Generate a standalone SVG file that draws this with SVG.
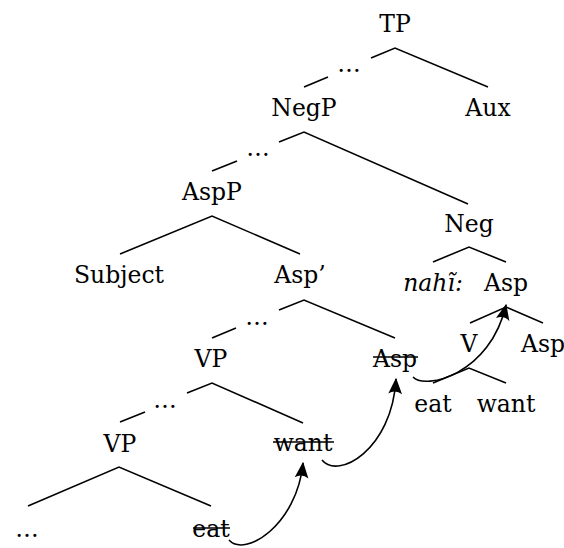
<svg xmlns="http://www.w3.org/2000/svg" width="564" height="548" viewBox="0 0 564 548">
<style>
text{font-family:"DejaVu Serif","Liberation Serif",serif;font-size:23.5px;fill:#000;text-anchor:middle}
.it{font-style:italic}
.e{fill:none;stroke:#000;stroke-width:1.6}
.st{stroke:#000;stroke-width:1.3}
.arr{fill:none;stroke:#000;stroke-width:1.6;marker-end:url(#ah)}
</style>
<defs>
<marker id="ah" markerUnits="userSpaceOnUse" markerWidth="20" markerHeight="20" viewBox="-14 -7 16 14" refX="0" refY="0" orient="auto">
<path d="M1,0 L-12,-5.5 Q-8,0 -12,5.5 Z" fill="#000"/>
</marker>
</defs>
<g id="TP"><text x="395" y="32">TP</text></g>
<g id="NegP"><text x="304" y="116">NegP</text></g>
<g id="Aux"><text x="488" y="116">Aux</text></g>
<g id="AspP"><text x="212" y="200">AspP</text></g>
<g id="Neg"><text x="469" y="232">Neg</text></g>
<g id="Subject"><text x="119" y="283">Subject</text></g>
<g id="AspBar"><text x="300" y="283">Asp’</text></g>
<g id="nahi"><text class="it" x="433" y="291">nahĩ:</text></g>
<g id="AspHigh"><text x="506" y="291">Asp</text></g>
<g id="V"><text x="469" y="352">V</text></g>
<g id="AspRight"><text x="543" y="352">Asp</text></g>
<g id="VP1"><text x="211" y="367">VP</text></g>
<g id="AspTrace"><text x="395" y="367">Asp</text><line class="st" x1="373" y1="357" x2="418" y2="357"/></g>
<g id="eatHigh"><text x="433" y="412">eat</text></g>
<g id="wantHigh"><text x="506" y="412">want</text></g>
<g id="VP2"><text x="120" y="452">VP</text></g>
<g id="wantTrace"><text x="303" y="451">want</text><line class="st" x1="273" y1="442" x2="334" y2="442"/></g>
<g id="dotsLow"><text x="27" y="537">…</text></g>
<g id="eatTrace"><text x="211" y="537">eat</text><line class="st" x1="193" y1="528" x2="230" y2="528"/></g>
<g id="connectors">
<path class="e" d="M371,58 L395,48 L488,87"/>
<path class="e" d="M328,77 L304,87"/>
<text x="349" y="72">…</text>
<path class="e" d="M279,142 L304,132 L468,204"/>
<path class="e" d="M237,161 L212,171"/>
<text x="258" y="156">…</text>
<path class="e" d="M120,254 L212,216 L300,254"/>
<path class="e" d="M433,262 L469,247 L506,262"/>
<path class="e" d="M470,323 L506,307 L543,323"/>
<path class="e" d="M433,383 L469,368 L506,383"/>
<path class="e" d="M279,310 L304,300 L395,338"/>
<path class="e" d="M236,328 L212,338"/>
<text x="257" y="325">…</text>
<path class="e" d="M187,393 L212,383 L303,423"/>
<path class="e" d="M145,412 L120,422"/>
<text x="165" y="408">…</text>
<path class="e" d="M28,506 L119,467 L211,506"/>
<path class="arr" d="M229,540 C245,558 297,525 303,463"/>
<path class="arr" d="M322,460 C338,480 392,450 396,379"/>
<path class="arr" d="M413,377 C425,390 490,375 506,305"/>
</g>
</svg>
